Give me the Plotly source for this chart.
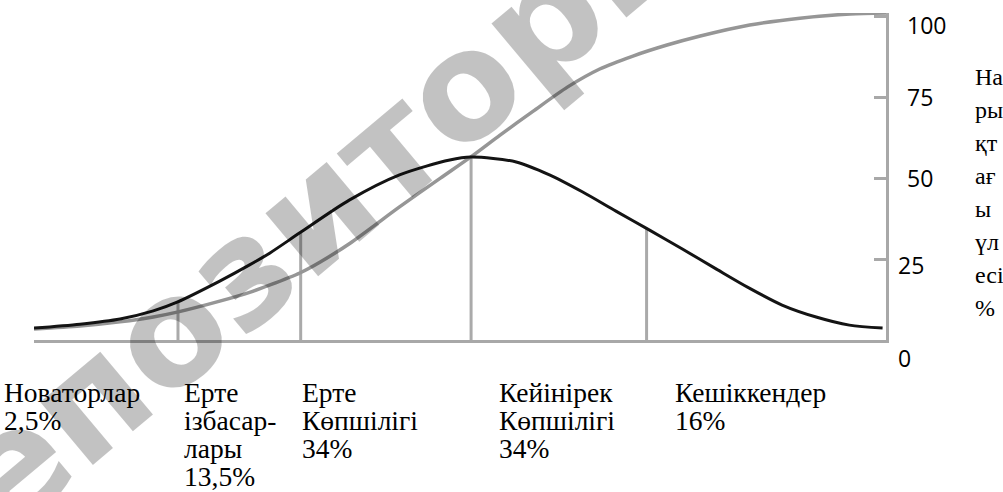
import numpy as np
import plotly.graph_objects as go

# ---------------- data ----------------
# time axis (arbitrary units 0..100)
bell_x = [0, 5.4, 10.1, 14.0, 16.8, 21.8, 25.3, 27.7, 31.2, 37.0, 42.9, 48.8, 51.3,
          56.6, 60.5, 64.4, 68.3, 72.2, 76.1, 80.1, 83.9, 87.8, 91.8, 95.7, 99.6]
bell_y = [3.7, 4.9, 6.5, 9.0, 11.7, 18.2, 23.2, 26.9, 33.1, 43.2, 51.0, 55.6, 56.5,
          55.0, 51.0, 45.7, 39.8, 34.0, 28.1, 21.9, 16.1, 10.8, 7.1, 4.6, 3.7]

s_x = [0, 5.4, 10.1, 14.0, 16.8, 21.8, 25.4, 27.7, 31.2, 33.6, 37.1, 42.9, 47.7,
       51.4, 54.7, 58.6, 62.6, 66.4, 70.3, 74.3, 78.2, 84.0, 89.9, 95.8, 100]
s_y = [3.4, 4.3, 5.6, 7.1, 8.6, 12.0, 14.8, 17.0, 20.7, 24.1, 29.9, 41.1, 50.0,
       56.8, 63.3, 70.7, 78.1, 83.7, 87.7, 91.1, 93.9, 97.3, 99.4, 100.7, 101.0]

# boundaries between adopter groups
boundaries = [16.9, 31.3, 51.3, 71.9]

categories = ["Новаторлар", "Ерте\nізбасар-\nлары", "Ерте\nКөпшілігі",
              "Кейінірек\nКөпшілігі", "Кешіккендер"]
shares = ["2,5", "13,5", "34", "34", "16"]

tick_vals = [0, 25, 50, 75, 100]
tick_text = ["0", "25", "50", "75", "100"]

axis_title = "Нарықтағы үлесі %"
axis_title_lines = ["На", "ры", "қт", "ағ", "ы", "үл", "есі", "%"]
watermark = "Репозиторий"

# ---------------- layout constants ----------------
W, H = 1003, 492
L, R, T, B = 34, 117, 13, 152
plot_w = W - L - R
plot_h = H - T - B
GRAY_AX = "rgb(168,168,168)"


def px_x(px):
    return (px - L) / plot_w


def px_y(py):
    return 1 - (py - T) / plot_h


fig = go.Figure()

# vertical separators, from axis up to bell curve
for bx in boundaries:
    h = float(np.interp(bx, bell_x, bell_y))
    fig.add_trace(go.Scatter(x=[bx, bx], y=[0, h], mode="lines",
                             line=dict(color="rgb(170,170,170)", width=3),
                             hoverinfo="skip", showlegend=False))

# S-curve (cumulative share)
fig.add_trace(go.Scatter(x=s_x, y=s_y, mode="lines",
                         line=dict(color="rgb(150,150,150)", width=3.5, shape="spline", smoothing=0.7),
                         showlegend=False))
# bell curve
fig.add_trace(go.Scatter(x=bell_x, y=bell_y, mode="lines",
                         line=dict(color="rgb(20,20,20)", width=3, shape="spline", smoothing=0.8),
                         showlegend=False))

annotations = []

# tick labels (right side)
tick_yshift = {0: -18, 25: -6, 50: 0, 75: 0, 100: -9}
tick_xshift = {0: 10, 25: 10, 50: 19, 75: 19, 100: 19}
for v, t in zip(tick_vals, tick_text):
    annotations.append(dict(x=1, xref="paper", y=v, yref="y", text=t, showarrow=False,
                            xanchor="left", yanchor="middle", xshift=tick_xshift[v],
                            yshift=tick_yshift[v],
                            font=dict(family="Open Sans", size=23, color="black")))

# vertical axis title, broken into short lines
for i, line in enumerate(axis_title_lines):
    py = 77 + i * 33
    annotations.append(dict(x=px_x(973), xref="paper", y=px_y(py), yref="paper",
                            text=line, showarrow=False, xanchor="left", yanchor="middle",
                            font=dict(family="Liberation Serif", size=24, color="black")))

# category labels below the axis
label_px = [2, 182, 300, 497, 673]
for px, name, share in zip(label_px, categories, shares):
    lines = name.split("\n") + [share + "%"]
    for i, line in enumerate(lines):
        py = 392 + i * 28
        annotations.append(dict(x=px_x(px), xref="paper", y=px_y(py), yref="paper",
                                text=line, showarrow=False, xanchor="left", yanchor="middle",
                                font=dict(family="Liberation Serif", size=27.5, color="black")))

# watermark (semi-transparent, crosses the figure diagonally)
annotations.append(dict(x=px_x(316), xref="paper", y=px_y(210), yref="paper",
                        text=watermark, showarrow=False, textangle=-40,
                        xanchor="center", yanchor="middle",
                        font=dict(family="DejaVu Sans", size=150, weight="bold",
                                  color="rgba(0,0,0,0.24)")))

fig.update_layout(
    width=W, height=H,
    margin=dict(l=L, r=R, t=T, b=B),
    paper_bgcolor="white", plot_bgcolor="white",
    xaxis=dict(range=[0, 100], showgrid=False, zeroline=False, showticklabels=False,
               showline=True, linecolor=GRAY_AX, linewidth=3, ticks=""),
    yaxis=dict(range=[0, 101], side="right", showgrid=False, zeroline=False,
               showticklabels=False, showline=True, linecolor=GRAY_AX, linewidth=3,
               ticks="inside", ticklen=12, tickwidth=3, tickcolor=GRAY_AX,
               tickvals=tick_vals),
    annotations=annotations,
    showlegend=False,
)

fig.write_html("out.html", config={"displayModeBar": False},
               post_script="document.body.style.margin='0';document.body.style.padding='0';")
